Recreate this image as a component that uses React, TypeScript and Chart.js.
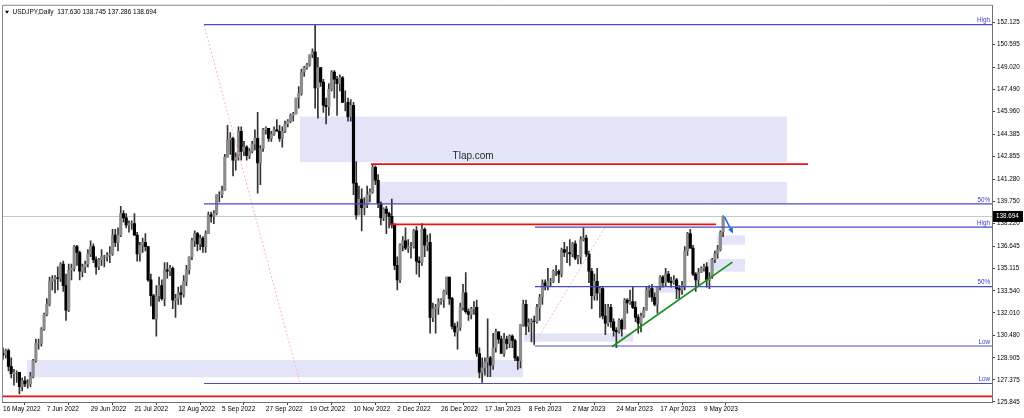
import { useEffect, useRef } from 'react';
import { Chart, registerables } from 'chart.js';

Chart.register(...registerables);

// USDJPY daily, 16 May 2022 .. 18 May 2023 (one value per bar)
const opens = [
  129.2, 129.1, 129.4, 128.3, 127.8, 127.9, 127.9, 126.9, 127.3, 127.1, 127.1, 127.6,
  128.7, 129.9, 129.9, 130.9, 131.9, 132.6, 134.2, 134.35, 134.45, 134.4, 135.4, 133.9, 132.2, 135.0, 135.1, 136.6, 136.2, 134.9, 135.2, 135.4, 136.1, 136.6,
  135.7, 135.2, 135.7, 135.9, 135.9, 136.0, 136.1, 137.4, 136.9, 137.4, 138.9, 138.6, 138.1, 138.2, 138.2, 137.4, 136.1, 136.7, 136.9, 136.6, 134.3,
  133.2, 131.6, 133.2, 133.9, 133.0, 135.0, 134.9, 135.1, 132.9, 133.0, 133.4, 133.3, 134.2, 135.0, 135.9, 137.0, 137.5, 136.8, 137.2, 136.6, 137.5, 138.8, 138.7,
  138.9, 140.2, 140.2, 140.5, 142.8, 144.0, 144.1, 142.6, 142.8, 144.6, 143.2, 143.5, 142.9, 143.2, 143.7, 144.1, 142.4, 143.4, 144.7, 144.8, 144.1, 144.4,
  144.7, 144.6, 144.1, 144.6, 145.1, 145.3, 145.7, 145.8, 146.9, 147.2, 148.7, 149.0, 149.2, 149.9, 150.1, 147.6, 149.0, 148.0, 146.4, 146.3, 147.5,
  148.7, 148.2, 147.9, 148.3, 146.6, 146.6, 145.6, 146.4, 141.0, 138.8, 139.9, 139.3, 139.5, 140.2, 140.4, 142.1, 141.2, 139.6, 138.6, 139.2, 138.9, 138.7,
  138.1, 135.3, 134.3, 136.7, 137.0, 136.5, 136.6, 136.6, 137.7, 135.6, 135.5, 137.8, 136.7, 136.9, 131.7, 132.3, 132.4, 132.8, 132.9, 133.5, 134.5, 133.0,
  131.1, 130.7, 131.0, 132.4, 133.4, 132.1, 131.9, 132.3, 132.4, 129.2, 127.9, 128.2, 128.6, 128.9, 128.4, 129.6, 130.7, 130.2, 129.2, 130.2, 129.9, 130.4,
  130.1, 128.9, 128.7, 131.2, 132.6, 131.1, 131.35, 131.45, 131.4, 132.4, 133.1, 134.1, 133.9, 134.2, 134.2, 134.9, 134.9, 134.7, 136.4, 136.2,
  136.2, 136.1, 136.8, 135.8, 135.9, 137.1, 137.2, 136.1, 134.9, 133.2, 134.2, 133.4, 133.7, 131.8, 131.3, 132.4, 131.4, 130.8, 130.7, 131.5, 130.9, 132.9, 132.7,
  132.8, 132.4, 131.7, 131.3, 131.8, 132.2, 133.6, 133.7, 133.1, 132.6, 133.8, 134.5, 134.1, 134.7, 134.2, 134.1, 134.3, 133.7, 133.6, 133.9,
  136.3, 137.5, 136.5, 134.7, 134.3, 134.8, 135.1, 135.2, 134.3, 134.5, 135.7, 136.1, 136.4, 137.63,
];
const highs = [
  129.6, 129.5, 129.5, 128.9, 128.1, 128.0, 127.9, 127.5, 127.6, 127.4, 127.9, 128.8,
  130.2, 130.2, 131.0, 132.0, 133.0, 134.5, 134.6, 134.6, 135.2, 135.5, 135.6, 134.7, 135.4, 135.4, 136.7, 136.7, 136.3, 135.4, 135.6, 136.4, 137.0, 136.8,
  135.9, 135.8, 136.4, 136.0, 136.2, 136.6, 137.8, 137.8, 137.9, 139.4, 139.1, 138.9, 138.4, 138.4, 138.9, 137.6, 136.9, 137.2, 137.5, 136.6, 134.7,
  133.3, 133.9, 134.5, 134.3, 135.5, 135.5, 135.3, 135.2, 133.3, 133.8, 133.9, 134.6, 135.3, 135.9, 137.2, 137.7, 137.6, 137.4, 137.3, 137.7, 139.0, 139.0, 139.1,
  140.2, 140.4, 140.8, 143.0, 145.0, 144.5, 144.2, 143.1, 144.9, 144.9, 143.9, 143.6, 143.4, 143.9, 144.7, 145.9, 143.6, 144.8, 144.9, 144.8, 144.6, 144.9,
  145.4, 145.0, 144.9, 145.3, 145.4, 145.8, 145.9, 146.9, 147.7, 148.9, 149.1, 149.3, 149.9, 150.3, 151.95, 149.7, 149.0, 148.2, 146.9, 147.9, 148.8,
  148.8, 148.4, 148.5, 148.4, 147.4, 146.9, 146.8, 146.6, 142.5, 140.8, 140.6, 140.0, 140.8, 140.6, 142.3, 142.2, 141.6, 139.7, 139.3, 139.4, 139.0, 139.9,
  138.2, 135.9, 136.8, 137.3, 137.9, 137.1, 136.9, 137.8, 138.0, 135.9, 138.2, 137.9, 137.4, 137.5, 132.7, 132.6, 133.0, 133.0, 133.6, 134.5, 134.5, 133.1,
  131.3, 131.4, 132.7, 134.0, 134.8, 132.3, 132.4, 132.8, 132.9, 129.6, 128.9, 128.9, 131.6, 129.0, 130.6, 130.9, 130.7, 130.4, 130.6, 130.4, 130.5, 130.5,
  130.2, 129.0, 131.2, 132.9, 132.9, 131.6, 131.6, 131.8, 132.6, 133.3, 134.3, 134.3, 135.1, 134.4, 135.0, 135.3, 135.0, 136.5, 136.9, 136.6,
  137.1, 136.9, 137.0, 136.0, 137.3, 137.9, 137.4, 136.3, 135.1, 134.7, 135.1, 133.8, 133.8, 132.6, 132.6, 132.6, 131.6, 131.0, 131.6, 131.6, 133.0, 133.0, 133.6,
  133.8, 132.8, 131.9, 132.0, 132.4, 133.8, 133.9, 134.0, 133.4, 133.8, 134.6, 134.6, 135.1, 134.9, 134.5, 134.6, 134.4, 133.9, 134.2, 136.6,
  137.6, 137.8, 136.7, 134.8, 135.1, 135.2, 135.4, 135.5, 134.8, 135.8, 136.3, 136.7, 137.7, 138.745,
];
const lows = [
  128.8, 128.9, 128.0, 127.5, 127.0, 127.2, 126.4, 126.6, 126.9, 126.8, 126.9, 127.5,
  128.6, 129.5, 129.7, 130.8, 131.8, 132.5, 133.6, 133.4, 133.6, 134.2, 133.5, 131.5, 132.1, 134.3, 134.9, 135.3, 134.3, 134.5, 134.8, 135.2, 135.9, 135.5,
  134.7, 135.0, 135.3, 135.2, 135.6, 135.5, 136.0, 136.6, 136.3, 137.3, 138.3, 137.9, 137.6, 137.8, 137.4, 135.6, 135.6, 136.2, 136.3, 134.2, 132.5,
  131.6, 130.4, 132.8, 132.9, 132.5, 134.4, 134.6, 132.3, 131.7, 132.6, 132.6, 133.1, 133.9, 134.7, 135.7, 136.6, 136.3, 136.4, 136.2, 136.2, 137.5, 138.3, 138.2,
  138.8, 139.7, 140.0, 140.5, 142.8, 143.0, 141.5, 141.9, 142.6, 142.6, 142.9, 142.6, 142.7, 143.1, 143.3, 140.3, 140.9, 143.2, 144.4, 143.9, 143.9, 144.3,
  144.6, 143.9, 143.5, 144.5, 144.9, 145.2, 145.3, 145.8, 146.2, 147.1, 148.4, 148.9, 149.1, 149.7, 146.2, 145.5, 147.7, 145.9, 145.1, 145.7, 147.4,
  146.9, 145.7, 147.4, 146.6, 146.0, 145.3, 145.3, 140.2, 138.5, 138.8, 137.7, 138.8, 139.3, 139.7, 140.3, 140.9, 139.3, 138.1, 138.4, 137.5, 137.9, 137.9,
  135.0, 133.6, 134.1, 136.3, 136.4, 136.2, 135.8, 136.5, 134.7, 134.5, 135.3, 135.9, 136.3, 130.6, 131.4, 130.6, 131.9, 132.6, 132.4, 133.3, 132.6, 130.9,
  130.4, 129.5, 130.8, 132.2, 132.0, 131.5, 131.6, 131.9, 129.0, 127.5, 127.2, 127.7, 127.6, 127.6, 128.1, 129.3, 129.9, 129.2, 129.0, 129.5, 129.6, 129.6,
  128.7, 128.1, 128.2, 131.1, 130.5, 130.7, 130.0, 129.8, 131.3, 131.5, 132.6, 133.6, 133.6, 133.9, 134.1, 134.6, 134.1, 134.5, 135.9, 135.5,
  135.3, 135.9, 135.7, 135.4, 135.4, 137.0, 135.9, 134.1, 132.3, 132.9, 132.9, 131.7, 131.6, 130.5, 131.1, 131.0, 130.4, 129.6, 130.6, 130.4, 130.9, 132.0, 132.6,
  132.3, 131.4, 130.6, 130.7, 131.7, 132.2, 133.1, 132.8, 132.5, 132.0, 133.6, 133.8, 133.9, 134.1, 133.8, 134.0, 133.0, 133.0, 133.3, 133.6,
  136.0, 136.5, 134.6, 133.5, 133.9, 134.8, 134.9, 133.8, 133.7, 134.4, 135.5, 135.8, 136.3, 137.286,
];
const closes = [
  129.1, 129.4, 128.3, 127.8, 127.9, 127.9, 126.9, 127.3, 127.1, 127.1, 127.6, 128.7,
  129.9, 129.9, 130.9, 131.9, 132.6, 134.2, 134.35, 134.45, 134.4, 135.4, 133.9, 132.2, 135.0, 135.1, 136.6, 136.2, 134.9, 135.2, 135.4, 136.1, 136.6, 135.7,
  135.2, 135.7, 135.9, 135.9, 136.0, 136.1, 137.4, 136.9, 137.4, 138.9, 138.6, 138.1, 138.2, 138.2, 137.4, 136.1, 136.7, 136.9, 136.6, 134.3, 133.2,
  131.6, 133.2, 133.9, 133.0, 135.0, 134.9, 135.1, 132.9, 133.0, 133.4, 133.3, 134.2, 135.0, 135.9, 137.0, 137.5, 136.8, 137.2, 136.6, 137.5, 138.8, 138.7, 138.9,
  140.2, 140.2, 140.5, 142.8, 144.0, 144.1, 142.6, 142.8, 144.6, 143.2, 143.5, 142.9, 143.2, 143.7, 144.1, 142.4, 143.4, 144.7, 144.8, 144.1, 144.4, 144.7,
  144.6, 144.1, 144.6, 145.1, 145.3, 145.7, 145.8, 146.9, 147.2, 148.7, 149.0, 149.2, 149.9, 150.1, 147.6, 149.0, 148.0, 146.4, 146.3, 147.5, 148.7,
  148.2, 147.9, 148.3, 146.6, 146.6, 145.6, 146.4, 141.0, 138.8, 139.9, 139.3, 139.5, 140.2, 140.4, 142.1, 141.2, 139.6, 138.6, 139.2, 138.9, 138.7, 138.1,
  135.3, 134.3, 136.7, 137.0, 136.5, 136.6, 136.6, 137.7, 135.6, 135.5, 137.8, 136.7, 136.9, 131.7, 132.3, 132.4, 132.8, 132.9, 133.5, 134.5, 133.0, 131.1,
  130.7, 131.0, 132.4, 133.4, 132.1, 131.9, 132.3, 132.4, 129.2, 127.9, 128.2, 128.6, 128.9, 128.4, 129.6, 130.7, 130.2, 129.2, 130.2, 129.9, 130.4, 130.1,
  128.9, 128.7, 131.2, 132.6, 131.1, 131.35, 131.45, 131.4, 132.4, 133.1, 134.1, 133.9, 134.2, 134.2, 134.9, 134.9, 134.7, 136.4, 136.2, 136.2,
  136.1, 136.8, 135.8, 135.9, 137.1, 137.2, 136.1, 134.9, 133.2, 134.2, 133.4, 133.7, 131.8, 131.3, 132.4, 131.4, 130.8, 130.7, 131.5, 130.9, 132.9, 132.7, 132.8,
  132.4, 131.7, 131.3, 131.8, 132.2, 133.6, 133.7, 133.1, 132.6, 133.8, 134.5, 134.1, 134.7, 134.2, 134.1, 134.3, 133.7, 133.6, 133.9, 136.3,
  137.5, 136.5, 134.7, 134.3, 134.8, 135.1, 135.2, 134.3, 134.5, 135.7, 136.1, 136.4, 137.6, 138.694,
];

// one time label every 16 bars
const dateLabels = [
  '16 May 2022', '7 Jun 2022', '29 Jun 2022', '21 Jul 2022', '12 Aug 2022', '5 Sep 2022',
  '27 Sep 2022', '19 Oct 2022', '10 Nov 2022', '2 Dec 2022', '26 Dec 2022', '17 Jan 2023',
  '8 Feb 2023', '2 Mar 2023', '24 Mar 2023', '17 Apr 2023', '9 May 2023',
];
const labelEvery = 16;

const priceTicks = [
  125.845, 127.375, 128.905, 130.48, 132.01, 133.54, 135.115, 136.645, 138.22,
  139.75, 141.28, 142.855, 144.385, 145.96, 147.49, 149.02, 150.595, 152.125,
];

const lastPrice = 138.694;
const header = 'USDJPY,Daily  137.630 138.745 137.286 138.694';

// shaded zones: [fromBar, toBar, topPrice, bottomPrice]
const zones = [
  [108.5, 286.3, 145.61, 142.46],
  [136.6, 286.3, 141.09, 139.6],
  [8.8, 189.9, 128.75, 127.55],
  [190.3, 230.1, 130.6, 130.02],
  [234.8, 248.7, 133.85, 133.41],
  [260.8, 271.0, 137.38, 136.73],
  [257.5, 271.0, 135.74, 134.87],
];

// fibonacci levels: [fromBar, price, text]
const fibLevels: [number, number, string][] = [
  [73.4, 151.98, 'High'],
  [73.4, 139.56, '50%'],
  [73.4, 127.12, 'Low'],
  [194.3, 137.95, 'High'],
  [194.3, 133.84, '50%'],
  [194.3, 129.72, 'Low'],
];
// fibonacci base lines: [bar0, price0, bar1, price1]
const fibDiagonals = [
  [73.4, 151.98, 108.5, 127.12],
  [193.6, 129.72, 219.9, 137.95],
];

// red resistance/support lines: [fromBar, toBar, price]
const redLines = [
  [134.4, 294.0, 142.32],
  [141.7, 260.4, 138.14],
  [-2, 400, 126.23],
];

const trendLine = [222.4, 129.67, 266.4, 135.53];
const arrowLine = [263.5, 138.66, 266.6, 137.52];
const watermark = { bar: 171.7, price: 142.87, text: 'Tlap.com' };

const FONT = 'Liberation Sans, Arial, sans-serif';

const overlayPlugin = {
  id: 'overlay',
  beforeDatasetsDraw(chart: any) {
    const { ctx, chartArea: a, scales } = chart;
    const x = scales.x;
    const y = scales.y;
    ctx.save();
    ctx.beginPath();
    ctx.rect(a.left, a.top, a.width, a.height);
    ctx.clip();
    ctx.fillStyle = '#e4e4f8';
    zones.forEach(([b0, b1, top, bot]) => {
      const x0 = x.getPixelForValue(b0);
      const x1 = x.getPixelForValue(b1);
      const y0 = y.getPixelForValue(top);
      const y1 = y.getPixelForValue(bot);
      ctx.fillRect(x0, y0, x1 - x0, y1 - y0);
    });
    // last price line
    const yp = Math.round(y.getPixelForValue(lastPrice)) + 0.5;
    ctx.strokeStyle = '#c8c8c8';
    ctx.lineWidth = 1;
    ctx.beginPath();
    ctx.moveTo(a.left, yp);
    ctx.lineTo(a.right, yp);
    ctx.stroke();
    ctx.restore();
  },
  afterDatasetsDraw(chart: any) {
    const { ctx, chartArea: a, scales } = chart;
    const x = scales.x;
    const y = scales.y;
    ctx.save();
    ctx.beginPath();
    ctx.rect(a.left, a.top, a.width, a.height);
    ctx.clip();

    // fib diagonals
    ctx.strokeStyle = '#ffb4b4';
    ctx.lineWidth = 1;
    ctx.setLineDash([2, 2]);
    fibDiagonals.forEach(([b0, p0, b1, p1]) => {
      ctx.beginPath();
      ctx.moveTo(x.getPixelForValue(b0), y.getPixelForValue(p0));
      ctx.lineTo(x.getPixelForValue(b1), y.getPixelForValue(p1));
      ctx.stroke();
    });
    ctx.setLineDash([]);

    // fib levels
    ctx.strokeStyle = '#4a4ac2';
    ctx.fillStyle = '#4040c4';
    ctx.lineWidth = 1.2;
    ctx.font = `6.3px ${FONT}`;
    ctx.textAlign = 'right';
    ctx.textBaseline = 'bottom';
    fibLevels.forEach(([b0, p, text]) => {
      const yy = y.getPixelForValue(p);
      ctx.beginPath();
      ctx.moveTo(x.getPixelForValue(b0), yy);
      ctx.lineTo(a.right, yy);
      ctx.stroke();
      ctx.fillText(text, a.right - 2, yy - 0.8);
    });

    // red lines
    ctx.strokeStyle = '#ee1111';
    ctx.lineWidth = 1.7;
    redLines.forEach(([b0, b1, p]) => {
      const yy = y.getPixelForValue(p);
      ctx.beginPath();
      ctx.moveTo(x.getPixelForValue(b0), yy);
      ctx.lineTo(x.getPixelForValue(b1), yy);
      ctx.stroke();
    });

    // trend line
    ctx.strokeStyle = '#1c921c';
    ctx.lineWidth = 1.8;
    ctx.beginPath();
    ctx.moveTo(x.getPixelForValue(trendLine[0]), y.getPixelForValue(trendLine[1]));
    ctx.lineTo(x.getPixelForValue(trendLine[2]), y.getPixelForValue(trendLine[3]));
    ctx.stroke();

    // arrow
    const ax0 = x.getPixelForValue(arrowLine[0]);
    const ay0 = y.getPixelForValue(arrowLine[1]);
    const ax1 = x.getPixelForValue(arrowLine[2]);
    const ay1 = y.getPixelForValue(arrowLine[3]);
    const ang = Math.atan2(ay1 - ay0, ax1 - ax0);
    ctx.strokeStyle = '#1e6ee8';
    ctx.fillStyle = '#1e6ee8';
    ctx.lineWidth = 1.6;
    ctx.beginPath();
    ctx.moveTo(ax0, ay0);
    ctx.lineTo(ax1 - 3 * Math.cos(ang), ay1 - 3 * Math.sin(ang));
    ctx.stroke();
    ctx.beginPath();
    ctx.moveTo(ax1, ay1);
    ctx.lineTo(ax1 - 6 * Math.cos(ang - 0.45), ay1 - 6 * Math.sin(ang - 0.45));
    ctx.lineTo(ax1 - 6 * Math.cos(ang + 0.45), ay1 - 6 * Math.sin(ang + 0.45));
    ctx.closePath();
    ctx.fill();

    // watermark text
    ctx.fillStyle = '#2a2a2a';
    ctx.font = `10px ${FONT}`;
    ctx.textAlign = 'center';
    ctx.textBaseline = 'middle';
    ctx.fillText(watermark.text, x.getPixelForValue(watermark.bar), y.getPixelForValue(watermark.price));
    ctx.restore();
  },
  afterDraw(chart: any) {
    const { ctx, chartArea: a, scales } = chart;
    const y = scales.y;
    ctx.save();
    // frame
    ctx.strokeStyle = '#8a8a8a';
    ctx.lineWidth = 1;
    ctx.beginPath();
    ctx.moveTo(a.left + 0.5, a.bottom);
    ctx.lineTo(a.left + 0.5, a.top - 0.5);
    ctx.lineTo(a.right, a.top - 0.5);
    ctx.stroke();

    // header
    ctx.fillStyle = '#000';
    ctx.beginPath();
    ctx.moveTo(a.left + 3, a.top + 5);
    ctx.lineTo(a.left + 7, a.top + 5);
    ctx.lineTo(a.left + 5, a.top + 8);
    ctx.closePath();
    ctx.fill();
    ctx.font = `6.5px ${FONT}`;
    ctx.textAlign = 'left';
    ctx.textBaseline = 'middle';
    ctx.fillText(header, a.left + 10.5, a.top + 6.5);

    // last price box
    const yp = y.getPixelForValue(lastPrice);
    ctx.fillStyle = '#000';
    ctx.fillRect(a.right + 1, yp - 5.5, 30, 11);
    ctx.fillStyle = '#fff';
    ctx.font = `6.3px ${FONT}`;
    ctx.fillText(lastPrice.toFixed(3), a.right + 4, yp);
    ctx.restore();
  },
};

const App: React.FC = () => {
  const canvasRef = useRef<HTMLCanvasElement>(null);
  const chartRef = useRef<Chart | null>(null);

  useEffect(() => {
    if (!canvasRef.current) return;
    const ctx = canvasRef.current.getContext('2d');
    if (!ctx) return;

    if (chartRef.current) {
      chartRef.current.destroy();
    }

    const bars = closes.map((_, i) => i);

    chartRef.current = new Chart(ctx, {
      type: 'bar',
      data: {
        datasets: [
          {
            label: 'wick',
            data: bars.map((i) => ({ x: i, y: [lows[i], highs[i]] })) as any,
            backgroundColor: '#333333',
            barThickness: 1,
            grouped: false,
            order: 2,
          },
          {
            label: 'body',
            data: bars.map((i) => ({ x: i, y: [opens[i], closes[i]] })) as any,
            backgroundColor: bars.map((i) => (closes[i] >= opens[i] ? '#8c8c8c' : '#000000')),
            borderColor: bars.map((i) => (closes[i] >= opens[i] ? '#5a5a5a' : '#000000')),
            borderWidth: 0,
            barThickness: 2.5,
            grouped: false,
            order: 1,
          },
        ],
      },
      options: {
        responsive: true,
        maintainAspectRatio: false,
        animation: false,
        layout: { padding: { left: 2, top: 2, right: 0, bottom: 0 } },
        plugins: {
          legend: { display: false },
          tooltip: { enabled: false },
        },
        scales: {
          x: {
            type: 'linear',
            min: -0.37,
            max: 361.2,
            offset: false,
            afterBuildTicks: (axis: any) => {
              axis.ticks = dateLabels.map((_, k) => ({ value: k * labelEvery }));
            },
            afterFit: (axis: any) => {
              axis.height = 16;
            },
            ticks: {
              autoSkip: false,
              maxRotation: 0,
              align: 'start',
              padding: 0,
              color: '#000',
              font: { family: FONT, size: 6.5 },
              callback: (v: any) => dateLabels[Math.round(Number(v) / labelEvery)],
            },
            grid: { drawOnChartArea: false, drawTicks: true, tickLength: 3, color: '#404040' },
            border: { display: true, color: '#707070' },
          },
          y: {
            position: 'right',
            min: 125.84,
            max: 153.29,
            afterBuildTicks: (axis: any) => {
              axis.ticks = priceTicks.map((v) => ({ value: v }));
            },
            afterFit: (axis: any) => {
              axis.width = 32;
            },
            ticks: {
              autoSkip: false,
              padding: 2,
              color: '#000',
              font: { family: FONT, size: 6.3 },
              callback: (v: any) => Number(v).toFixed(3),
            },
            grid: { drawOnChartArea: false, drawTicks: true, tickLength: 3, color: '#404040' },
            border: { display: true, color: '#707070' },
          },
        },
      },
      plugins: [overlayPlugin],
    });

    return () => {
      if (chartRef.current) {
        chartRef.current.destroy();
        chartRef.current = null;
      }
    };
  }, []);

  return (
    <div style={{ position: 'fixed', left: 0, top: 0, width: 1024, height: 418, background: '#fff' }}>
      <canvas ref={canvasRef} />
    </div>
  );
};

export default App;
